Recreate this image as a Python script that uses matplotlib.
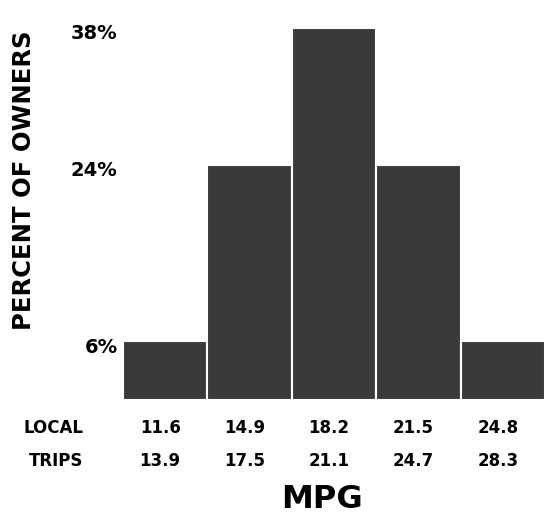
import matplotlib.pyplot as plt
import matplotlib.transforms as mtrans

local_mpg = ['11.6', '14.9', '18.2', '21.5', '24.8']
trips_mpg = ['13.9', '17.5', '21.1', '24.7', '28.3']
percent = [6, 24, 38, 24, 6]
ytick_vals = [6, 24, 38]
ytick_labels = ['6%', '24%', '38%']

fig = plt.figure(figsize=(5.45, 5.17), dpi=100)
ax = fig.add_axes([123 / 545, 117 / 517, 422 / 545, 392 / 517])

x = list(range(len(percent)))
ax.bar(x, percent, width=1.0, color='#3a3a3a', edgecolor='white', linewidth=1.5)
ax.set_xlim(-0.5, 4.5)
ax.set_ylim(0, 40)

for s in ax.spines.values():
    s.set_visible(False)
ax.set_xticks([])
ax.set_yticks(ytick_vals)
ax.set_yticklabels(ytick_labels, fontsize=14, fontweight='heavy')
ax.tick_params(axis='y', length=0, pad=4)
# labels sit a little below the bar tops in the original
off = mtrans.ScaledTranslation(0, -4 / 100, fig.dpi_scale_trans)
for lbl in ax.get_yticklabels():
    lbl.set_transform(lbl.get_transform() + off)

ax.set_ylabel('PERCENT OF OWNERS', fontsize=17.5, fontweight='heavy')
ax.yaxis.set_label_coords(-0.205, 0.56)

for i in x:
    ax.text(i - 0.06, -2.9, local_mpg[i], ha='center', va='center', fontsize=12,
            fontweight='heavy')
    ax.text(i - 0.06, -6.2, trips_mpg[i], ha='center', va='center', fontsize=12,
            fontweight='heavy')
ax.text(-0.97, -2.9, 'LOCAL', ha='right', va='center', fontsize=12, fontweight='heavy')
ax.text(-0.97, -6.2, 'TRIPS', ha='right', va='center', fontsize=12, fontweight='heavy')

fig.text(322 / 545, 1 - 500 / 517, 'MPG', ha='center', va='center', fontsize=23, fontweight='heavy')

fig.savefig('out.png', dpi=100)
